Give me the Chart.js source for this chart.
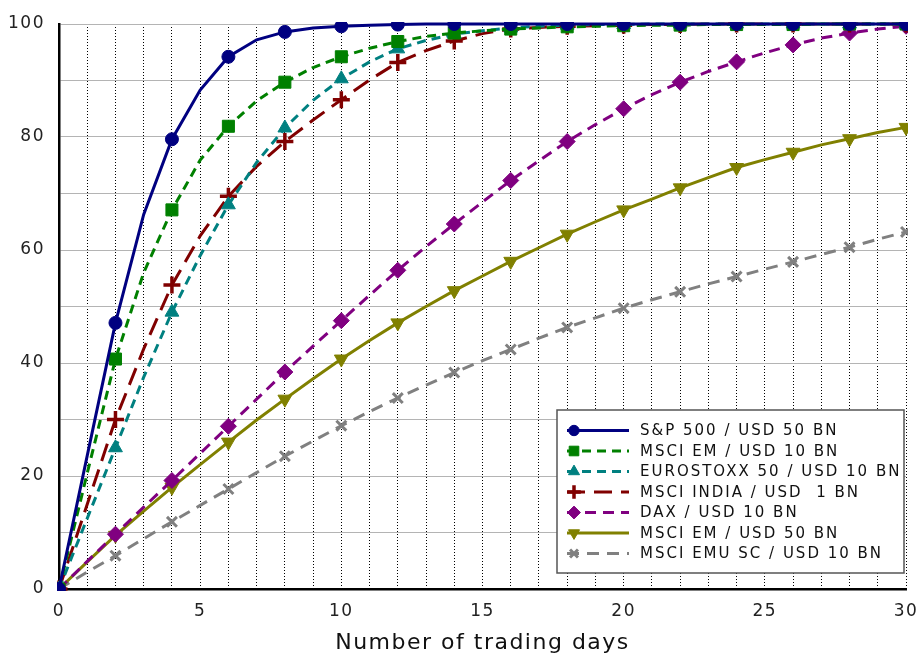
<!DOCTYPE html>
<html>
<head>
<meta charset="utf-8">
<script src="https://cdn.jsdelivr.net/npm/chart.js@4.4.1/dist/chart.umd.min.js"></script>
<style>
  html, body { margin: 0; background: #fff; }
  #wrap { width: 919px; height: 658px; }
</style>
</head>
<body>
<div id="wrap"><canvas id="myChart"></canvas></div>
<script>
// trading days on the x axis
const days = [0, 1, 2, 3, 4, 5, 6, 7, 8, 9, 10, 11, 12, 13, 14, 15, 16, 17, 18, 19, 20,
              21, 22, 23, 24, 25, 26, 27, 28, 29, 30]

// share of the position liquidated (%)
const sp500 = [0, 23.6, 47.1, 66.3, 79.6, 88.3, 94.2, 97.2, 98.6, 99.3, 99.6, 99.8, 99.9, 100, 100, 100,
               100, 100, 100, 100, 100, 100, 100, 100, 100, 100, 100, 100, 100, 100, 100]
const msciEm10 = [0, 20.5, 40.7, 56, 67.1, 75.9, 81.9, 86.4, 89.7, 92.3, 94.2, 95.7, 96.9, 97.8, 98.4, 98.8,
                  99.1, 99.3, 99.5, 99.6, 99.7, 99.8, 99.8, 99.9, 99.9, 99.9, 99.9, 100, 100, 100, 100]
const eurostoxx = [0, 12.5, 25, 37.5, 49, 59, 68, 75.5, 81.6, 86.5, 90.3, 93.3, 95.6, 97.1, 98.2, 98.8,
                   99.3, 99.6, 99.8, 99.9, 99.9, 100, 100, 100, 100, 100, 100, 100, 100, 100, 100]
const msciIndia = [0, 15, 30, 42.5, 53.8, 62.5, 69.5, 74.8, 79.2, 83, 86.6, 90.1, 93.2, 95.3, 97, 98.3,
                   99.1, 99.4, 99.6, 99.7, 99.8, 99.9, 99.9, 100, 100, 100, 100, 100, 100, 100, 100]
const dax = [0, 4.9, 9.7, 14.5, 19.2, 24, 28.8, 33.6, 38.4, 43, 47.5, 52, 56.4, 60.6, 64.6, 68.5,
             72.3, 75.8, 79.2, 82.2, 85, 87.5, 89.7, 91.6, 93.3, 94.9, 96.3, 97.5, 98.4, 99.1, 99.6]
const msciEm50 = [0, 4.8, 9.5, 13.8, 18, 22, 26, 29.9, 33.6, 37.2, 40.7, 44, 47.1, 50, 52.8, 55.4,
                  58, 60.4, 62.8, 65, 67.1, 69, 71, 72.8, 74.6, 76, 77.3, 78.6, 79.7, 80.8, 81.7]
const msciEmuSc = [0, 3, 5.9, 8.9, 11.9, 14.8, 17.7, 20.6, 23.5, 26.2, 28.9, 31.4, 33.8, 36.1, 38.3, 40.4,
                   42.4, 44.4, 46.3, 48, 49.7, 51.2, 52.6, 54, 55.3, 56.6, 57.9, 59.2, 60.5, 61.9, 63.2]

const seriesNames = ['S&P 500 / USD 50 BN', 'MSCI EM / USD 10 BN', 'EUROSTOXX 50 / USD 10 BN',
  'MSCI INDIA / USD  1 BN', 'DAX / USD 10 BN', 'MSCI EM / USD 50 BN', 'MSCI EMU SC / USD 10 BN']

const FONT = '"DejaVu Sans", sans-serif'

const toPoints = (vals) => days.map((d, i) => ({ x: d, y: vals[i] }))
const evenOnly = (r) => (c) => (days[c.dataIndex] % 2 === 0 ? r : 0)

const makeSet = (label, vals, color, dash, style, r, extra) => Object.assign({
  label: label,
  data: toPoints(vals),
  borderColor: color,
  backgroundColor: color,
  borderWidth: 3,
  borderDash: dash,
  pointStyle: style,
  pointRadius: evenOnly(r),
  pointBorderWidth: 1,
  pointBackgroundColor: color,
  pointBorderColor: color,
  legendRadius: r * 0.8,
  tension: 0,
  clip: 2
}, extra || {})

const datasets = [
  makeSet(seriesNames[0], sp500, '#000080', [], 'circle', 6.5),
  makeSet(seriesNames[1], msciEm10, '#008000', [9, 6], 'rect', 8.5),
  makeSet(seriesNames[2], eurostoxx, '#008080', [9, 6], 'triangle', 8),
  makeSet(seriesNames[3], msciIndia, '#800000', [18, 9], 'cross', 8.5, { pointBorderWidth: 3.5 }),
  makeSet(seriesNames[4], dax, '#800080', [11, 7], 'rectRot', 8),
  makeSet(seriesNames[5], msciEm50, '#808000', [], 'triangle', 8, { pointRotation: 180 }),
  makeSet(seriesNames[6], msciEmuSc, '#808080', [12, 8], 'crossRot', 7, { pointBorderWidth: 3 })
]

// spaced out lettering like the original plot font
const spacing = {
  id: 'spacing',
  beforeDraw(chart) { chart.ctx.letterSpacing = '1.5px' }
}

// legend box in the lower right corner of the plot
const boxLegend = {
  id: 'boxLegend',
  afterDraw(chart) {
    const { ctx, chartArea } = chart
    const w = 347, h = 163
    const right = chartArea.right - 2
    const bottom = chartArea.bottom - 16
    const left = right - w, top = bottom - h
    ctx.save()
    ctx.fillStyle = '#fff'
    ctx.fillRect(left, top, w, h)
    ctx.strokeStyle = '#555'
    ctx.lineWidth = 1.5
    ctx.strokeRect(left, top, w, h)
    chart.data.datasets.forEach((ds, i) => {
      const y = top + 20.5 + i * 20.5
      ctx.strokeStyle = ds.borderColor
      ctx.lineWidth = 3
      ctx.setLineDash(ds.borderDash)
      ctx.beginPath()
      ctx.moveTo(left + 10, y)
      ctx.lineTo(left + 72, y)
      ctx.stroke()
      ctx.setLineDash([])
      ctx.fillStyle = ds.borderColor
      ctx.lineWidth = ds.pointBorderWidth
      Chart.helpers.drawPoint(ctx, {
        pointStyle: ds.pointStyle,
        radius: ds.legendRadius,
        rotation: ds.pointRotation || 0,
        borderWidth: ds.pointBorderWidth
      }, left + 17, y)
      ctx.fillStyle = '#111'
      ctx.letterSpacing = '2px'
      ctx.font = '15px ' + FONT
      ctx.textBaseline = 'middle'
      ctx.textAlign = 'left'
      ctx.fillText(ds.label, left + 83, y + 1)
    })
    ctx.restore()
  }
}

new Chart(document.getElementById('myChart'), {
  type: 'line',
  data: { datasets: datasets },
  plugins: [spacing, boxLegend],
  options: {
    responsive: true,
    maintainAspectRatio: false,
    animation: false,
    events: [],
    layout: { padding: { top: 24, right: 13, bottom: 0, left: 0 } },
    plugins: { legend: { display: false }, tooltip: { enabled: false } },
    scales: {
      x: {
        type: 'linear',
        min: 0,
        max: 30,
        afterFit: (s) => { s.height = 69; s.paddingLeft = 0; s.paddingRight = 0 },
        grid: { color: '#000', lineWidth: 1, drawTicks: false },
        border: { display: true, color: '#000', width: 2.5, dash: [1, 2] },
        ticks: {
          stepSize: 1,
          autoSkip: false,
          maxRotation: 0,
          padding: 12,
          color: '#222',
          font: { family: FONT, size: 17 },
          callback: (v) => (v % 5 === 0 ? v : '')
        },
        title: {
          display: true,
          text: 'Number of trading days',
          color: '#111',
          font: { family: FONT, size: 22 },
          padding: { top: 0, bottom: 2 }
        }
      },
      y: {
        min: 0,
        max: 100,
        afterFit: (s) => { s.width = 59; s.paddingTop = 0; s.paddingBottom = 0 },
        // horizontal grid as a light solid line, the dotted version did not show
        grid: { color: '#b4b4b4', lineWidth: 1, drawTicks: false },
        border: { display: true, color: '#000', width: 2.5 },
        ticks: {
          stepSize: 10,
          autoSkip: false,
          padding: 14,
          color: '#222',
          font: { family: FONT, size: 17 },
          callback: (v) => (v % 20 === 0 ? v : '')
        }
      }
    }
  }
})
</script>
</body>
</html>
